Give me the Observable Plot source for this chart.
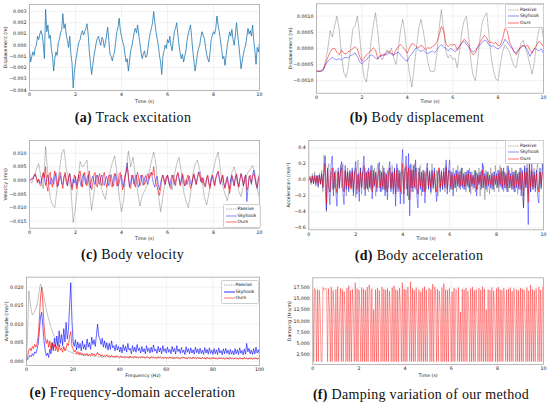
<!DOCTYPE html>
<html><head><meta charset="utf-8">
<script src="https://cdn.jsdelivr.net/npm/d3@7"></script>
<script src="https://cdn.jsdelivr.net/npm/@observablehq/plot@0.6"></script>
<style>
body{margin:0;background:#fff;}
#fig{position:relative;width:550px;height:405px;overflow:hidden;background:#fff;}
.cell{position:absolute;width:275px;height:135px;}
.cell svg{position:absolute;left:0;top:0;overflow:visible;}
.cap{position:absolute;width:300px;text-align:center;font-family:"Liberation Serif",serif;font-size:14px;letter-spacing:0.3px;line-height:16px;color:#111;white-space:nowrap;}
.leg{position:absolute;background:rgba(255,255,255,0.85);border:0.5px solid #cfcfcf;border-radius:1.5px;font-family:"DejaVu Sans";font-size:4.5px;color:#111;}
.leg .row{position:absolute;left:0;height:6px;width:100%;}
.leg svg{position:absolute;left:2px;top:0;}
.leg span{position:absolute;left:14px;top:0;line-height:6px;white-space:nowrap;}
</style></head>
<body><div id="fig"></div>
<script>
// ---------- DATA ----------
const timeTicks = [0, 2, 4, 6, 8, 10];
const freqTicks = [0, 20, 40, 60, 80, 100];
const seriesNames = ["Passive", "Skyhook", "Ours"];

// (a) track excitation, sampled every 0.05 s
const trackStep = 0.05;
const trackTicks = [-0.004, -0.003, -0.002, -0.001, 0, 0.001, 0.002, 0.003];
const trackExcitation = [-0.0005,-0.0015,-0.0010,-0.0006,-0.0009,-0.0002,0.0000,0.0008,0.0005,0.0010,
 0.0013,0.0009,0.0001,-0.0012,0.0032,0.0012,0.0018,0.0006,0.0009,-0.0003,
 -0.0010,-0.0023,-0.0012,-0.0006,-0.0009,0.0002,0.0005,0.0011,0.0014,0.0028,
 0.0015,0.0019,0.0009,0.0004,-0.0002,0.0008,-0.0008,-0.0016,-0.0038,-0.0024,
 -0.0015,-0.0009,-0.0002,0.0003,0.0005,0.0010,0.0013,0.0009,0.0012,0.0015,
 0.0019,0.0010,-0.0005,-0.0016,-0.0026,-0.0018,-0.0010,-0.0004,0.0002,0.0006,
 0.0008,0.0003,0.0000,0.0007,0.0005,-0.0002,0.0002,0.0009,0.0016,0.0004,
 -0.0008,-0.0010,-0.0014,-0.0009,-0.0006,0.0004,0.0012,0.0016,0.0024,0.0013,
 0.0008,0.0003,0.0000,-0.0008,-0.0015,-0.0012,-0.0023,-0.0014,-0.0005,-0.0001,
 0.0005,0.0011,0.0015,0.0011,0.0018,0.0009,0.0002,-0.0006,-0.0012,-0.0008,
 -0.0005,-0.0011,-0.0010,-0.0003,0.0005,0.0011,0.0015,0.0020,0.0030,0.0020,
 0.0012,0.0006,0.0000,-0.0009,-0.0015,-0.0026,-0.0010,-0.0005,0.0000,-0.0003,
 0.0005,0.0002,0.0008,0.0000,-0.0005,0.0004,0.0012,0.0015,0.0020,0.0010,
 0.0000,-0.0007,-0.0012,-0.0008,-0.0015,-0.0010,-0.0005,0.0004,0.0010,0.0014,
 0.0018,0.0007,-0.0005,-0.0014,-0.0023,-0.0016,-0.0008,-0.0003,0.0000,0.0007,
 0.0012,0.0009,0.0006,-0.0001,-0.0008,-0.0012,-0.0015,-0.0006,0.0005,0.0009,
 0.0012,0.0010,0.0015,0.0026,0.0018,0.0012,0.0005,-0.0003,-0.0012,-0.0010,
 -0.0018,-0.0009,0.0000,0.0006,0.0012,0.0008,0.0014,0.0005,0.0000,0.0009,
 0.0020,0.0010,0.0000,-0.0010,-0.0021,-0.0014,-0.0008,-0.0003,0.0000,0.0008,
 0.0015,0.0010,0.0013,0.0008,0.0018,0.0004,-0.0005,-0.0017,-0.0002,-0.0006,
 0.0002];

// (b) body displacement, every 0.1 s
const dispStep = 0.1;
const dispTicks = [-0.001, -0.0005, 0, 0.0005, 0.001];
const dispPassive = [-0.00070,-0.00072,-0.00073,-0.00068,-0.00040,0.00000,0.00055,0.00035,0.00070,0.00100,
 0.00060,-0.00020,-0.00075,-0.00090,-0.00060,0.00000,0.00060,0.00070,0.00100,0.00040,
 -0.00040,-0.00090,-0.00105,-0.00050,0.00020,0.00070,0.00110,0.00050,-0.00020,-0.00035,
 -0.00020,-0.00005,-0.00015,0.00000,-0.00030,-0.00050,-0.00005,0.00055,0.00090,0.00045,
 -0.00030,-0.00080,-0.00120,-0.00060,0.00000,0.00060,0.00090,0.00055,0.00010,-0.00040,
 -0.00070,-0.00072,-0.00070,-0.00020,0.00060,0.00120,0.00060,-0.00010,-0.00030,-0.00020,
 -0.00035,-0.00030,-0.00060,-0.00010,0.00050,0.00085,0.00100,0.00040,-0.00040,-0.00085,
 -0.00100,-0.00040,0.00030,0.00080,0.00100,0.00110,0.00040,-0.00030,-0.00070,-0.00095,
 -0.00100,-0.00050,-0.00010,0.00010,0.00000,-0.00010,-0.00035,-0.00055,-0.00060,-0.00020,
 0.00015,0.00025,0.00005,-0.00020,-0.00050,-0.00080,-0.00040,0.00020,0.00060,0.00070,
 0.00030];
const dispSkyhook = [-0.00070,-0.00071,-0.00070,-0.00066,-0.00052,-0.00040,-0.00033,-0.00028,-0.00033,-0.00036,
 -0.00032,-0.00036,-0.00030,-0.00028,-0.00030,-0.00022,-0.00020,-0.00014,-0.00025,-0.00042,
 -0.00048,-0.00040,-0.00036,-0.00026,-0.00020,-0.00024,-0.00030,-0.00034,-0.00025,-0.00022,
 -0.00018,-0.00020,-0.00014,-0.00018,-0.00022,-0.00015,-0.00012,-0.00020,-0.00028,-0.00036,
 -0.00040,-0.00025,-0.00018,-0.00006,0.00002,-0.00005,-0.00010,-0.00005,-0.00012,-0.00016,
 -0.00012,-0.00008,-0.00014,-0.00005,0.00005,0.00012,0.00004,0.00000,-0.00008,0.00000,
 -0.00004,-0.00010,-0.00006,0.00008,0.00015,0.00022,0.00012,0.00005,-0.00005,-0.00012,
 -0.00006,0.00002,0.00010,0.00018,0.00026,0.00022,0.00010,0.00006,0.00008,0.00002,
 -0.00002,0.00004,0.00012,0.00028,0.00020,0.00008,0.00002,-0.00010,-0.00014,-0.00004,
 0.00002,0.00008,0.00004,-0.00006,-0.00025,-0.00012,0.00000,-0.00004,-0.00008,-0.00002,
 -0.00015];
const dispOurs = [-0.00070,-0.00071,-0.00070,-0.00064,-0.00045,-0.00028,-0.00012,-0.00002,0.00000,-0.00012,
 -0.00020,-0.00005,-0.00015,-0.00018,-0.00010,-0.00008,0.00000,0.00005,-0.00002,-0.00025,
 -0.00040,-0.00030,-0.00020,-0.00014,-0.00008,0.00002,-0.00005,-0.00032,-0.00022,-0.00020,
 -0.00022,-0.00012,-0.00008,-0.00015,-0.00020,-0.00005,0.00005,0.00012,0.00005,-0.00005,
 -0.00015,0.00002,0.00015,0.00012,0.00005,0.00002,0.00010,0.00005,-0.00005,0.00002,
 0.00000,0.00005,0.00010,0.00020,0.00040,0.00068,0.00055,0.00015,0.00005,0.00012,
 0.00010,0.00012,-0.00005,0.00005,0.00018,0.00028,0.00022,0.00010,-0.00010,-0.00020,
 -0.00015,0.00005,0.00018,0.00030,0.00040,0.00032,0.00018,0.00020,0.00015,0.00018,
 0.00008,0.00010,0.00030,0.00062,0.00055,0.00020,0.00005,-0.00010,-0.00020,-0.00005,
 0.00005,0.00010,0.00005,0.00010,-0.00005,-0.00015,0.00000,0.00010,0.00022,0.00015,
 0.00005];

// (c) body velocity: passive every 0.1 s, skyhook / ours every 0.05 s
const velPassiveStep = 0.1, velStep = 0.05;
const velTicks = [-0.015, -0.01, -0.005, 0, 0.005, 0.01];
const velPassive = [0.0000,-0.0010,0.0015,0.0040,0.0062,0.0010,-0.0030,0.0125,0.0020,-0.0065,
 -0.0090,-0.0100,-0.0030,0.0035,0.0100,0.0115,0.0040,0.0010,-0.0030,-0.0155,
 -0.0100,-0.0010,0.0070,0.0050,0.0060,0.0075,-0.0030,-0.0110,-0.0050,0.0020,
 0.0010,-0.0020,-0.0050,-0.0070,-0.0010,0.0030,0.0065,0.0090,0.0030,-0.0060,
 -0.0115,-0.0070,0.0040,0.0108,0.0050,0.0085,0.0020,-0.0040,-0.0095,-0.0055,
 -0.0040,-0.0020,0.0030,0.0070,0.0105,0.0060,-0.0050,-0.0115,-0.0060,0.0000,
 0.0020,-0.0015,-0.0035,0.0020,0.0060,0.0085,0.0030,-0.0040,-0.0075,-0.0100,
 -0.0050,0.0020,0.0060,0.0075,0.0040,0.0000,-0.0060,-0.0090,-0.0050,0.0010,
 0.0040,0.0080,0.0105,0.0040,-0.0020,-0.0050,-0.0075,-0.0030,0.0030,0.0050,
 0.0010,-0.0040,-0.0060,-0.0020,0.0010,0.0030,0.0040,0.0055,0.0030,-0.0030,
 -0.0065];
const velSkyhook = [0.0000,0.0003,0.0008,0.0005,0.0015,0.0022,0.0010,-0.0005,0.0002,-0.0010,-0.0008,
 0.0015,0.0025,0.0005,-0.0018,0.0008,0.0020,-0.0005,-0.0015,0.0010,0.0000,
 -0.0015,0.0015,0.0028,-0.0005,-0.0020,0.0005,0.0018,-0.0012,-0.0015,0.0015,
 0.0022,-0.0008,-0.0020,0.0010,0.0025,-0.0005,-0.0025,0.0005,-0.0010,0.0015,
 -0.0018,0.0005,0.0020,-0.0005,-0.0022,0.0010,0.0025,0.0005,-0.0015,0.0008,
 0.0020,-0.0010,-0.0028,0.0005,0.0015,-0.0005,-0.0015,0.0010,0.0020,-0.0008,
 -0.0015,0.0012,0.0020,-0.0010,-0.0018,0.0005,0.0015,-0.0005,-0.0020,0.0008,
 0.0022,-0.0005,-0.0020,0.0010,0.0025,0.0000,-0.0022,-0.0010,0.0015,0.0020,
 -0.0015,-0.0025,0.0010,0.0030,0.0065,0.0010,-0.0025,-0.0010,0.0020,0.0005,
 -0.0015,0.0015,0.0020,-0.0015,-0.0025,0.0005,0.0020,-0.0005,-0.0018,0.0008,
 0.0018,-0.0005,-0.0015,0.0010,0.0025,0.0030,0.0005,-0.0015,-0.0025,0.0005,
 0.0015,-0.0015,-0.0035,-0.0010,0.0010,0.0020,-0.0005,-0.0015,0.0010,0.0018,
 -0.0005,-0.0020,0.0005,0.0020,0.0005,-0.0015,-0.0005,0.0015,0.0025,0.0005,
 -0.0015,0.0005,0.0018,-0.0010,-0.0020,0.0000,-0.0015,0.0005,0.0015,-0.0010,
 -0.0018,0.0005,0.0020,0.0000,-0.0015,0.0010,0.0032,0.0015,-0.0005,0.0010,
 0.0000,-0.0015,-0.0020,0.0005,0.0015,-0.0010,-0.0020,0.0005,0.0015,-0.0005,
 -0.0018,0.0010,0.0025,0.0030,0.0005,-0.0015,0.0005,0.0018,-0.0010,-0.0025,
 0.0000,0.0015,-0.0015,-0.0030,0.0005,0.0020,-0.0005,-0.0020,0.0010,0.0020,
 -0.0005,-0.0022,0.0005,0.0025,0.0005,-0.0020,0.0010,0.0020,-0.0078,-0.0030,
 0.0015,0.0005,-0.0015,0.0020,0.0038,0.0010,-0.0015,-0.0030,0.0005,0.0025];
const velOurs = [0.0000,0.0002,0.0005,0.0010,0.0020,0.0025,0.0010,-0.0010,0.0005,-0.0015,-0.0020,
 0.0010,0.0030,0.0010,0.0050,-0.0020,-0.0040,0.0020,0.0030,-0.0010,-0.0025,
 0.0010,0.0035,0.0005,-0.0025,-0.0010,0.0025,0.0030,-0.0010,-0.0030,0.0010,
 0.0030,0.0005,-0.0020,0.0015,0.0025,-0.0010,-0.0035,-0.0010,0.0020,0.0005,
 -0.0030,-0.0010,0.0025,0.0035,0.0000,-0.0025,0.0015,0.0030,-0.0005,-0.0020,
 0.0010,0.0035,-0.0010,-0.0035,-0.0015,0.0020,0.0030,-0.0010,-0.0025,0.0010,
 0.0025,-0.0005,-0.0020,0.0015,0.0030,0.0000,-0.0025,-0.0005,0.0020,0.0015,
 -0.0015,-0.0025,0.0010,0.0025,0.0005,-0.0020,-0.0015,0.0025,0.0030,-0.0005,
 -0.0035,-0.0010,0.0020,0.0030,0.0050,0.0020,-0.0025,-0.0030,0.0010,0.0020,
 -0.0010,-0.0025,0.0010,0.0030,0.0005,-0.0020,-0.0005,0.0020,0.0010,-0.0015,
 -0.0005,0.0015,0.0025,0.0005,0.0015,0.0030,0.0020,0.0050,0.0010,-0.0010,
 -0.0025,-0.0040,-0.0055,-0.0030,0.0005,0.0020,0.0005,-0.0015,0.0010,0.0020,
 0.0000,-0.0025,-0.0030,0.0010,0.0020,0.0000,-0.0020,0.0015,0.0030,0.0010,
 -0.0020,-0.0005,0.0025,0.0010,-0.0020,-0.0015,0.0010,0.0020,-0.0010,-0.0030,
 -0.0015,0.0010,0.0025,0.0005,-0.0015,0.0010,0.0025,0.0030,0.0000,-0.0010,
 0.0010,-0.0020,-0.0025,0.0010,0.0020,-0.0015,-0.0030,0.0000,0.0020,0.0010,
 -0.0020,0.0005,0.0020,0.0035,0.0015,-0.0010,0.0000,0.0020,-0.0015,-0.0030,
 -0.0010,0.0010,-0.0020,-0.0048,-0.0020,0.0015,0.0005,-0.0020,0.0010,0.0025,
 -0.0005,-0.0025,0.0005,0.0025,0.0010,-0.0020,0.0005,0.0020,-0.0035,-0.0025,
 0.0010,0.0020,-0.0010,0.0015,0.0025,0.0010,-0.0015,-0.0025,0.0005,0.0020];

// (d) body acceleration, every 0.05 s
const accStep = 0.05;
const accTicks = [-0.6, -0.4, -0.2, 0, 0.2, 0.4];
const accPassive = [0.00,0.05,-0.06,0.08,-0.05,0.10,-0.08,0.06,-0.10,0.08,-0.06,
 0.12,-0.15,0.31,-0.10,-0.40,0.12,0.20,-0.15,0.10,-0.12,
 0.15,-0.10,0.12,-0.18,0.10,-0.12,0.18,-0.10,0.20,-0.15,
 0.10,-0.20,0.15,-0.12,0.10,-0.08,0.12,-0.15,0.10,-0.22,
 0.12,0.25,-0.10,0.15,-0.18,0.10,-0.12,0.15,-0.10,0.12,
 -0.15,0.10,-0.12,0.18,-0.10,0.15,-0.20,0.12,0.20,-0.10,
 0.12,-0.15,0.18,-0.12,0.10,-0.15,0.12,-0.10,0.15,-0.12,
 0.18,-0.10,0.12,-0.15,0.10,0.15,-0.12,0.10,-0.18,0.12,
 -0.10,0.15,-0.12,0.10,-0.25,0.18,-0.10,0.12,-0.15,0.20,
 -0.12,0.15,-0.18,0.10,0.18,-0.20,0.12,-0.15,0.10,-0.12,
 0.15,-0.10,0.12,-0.18,0.20,-0.12,0.10,-0.15,0.12,-0.20,
 0.15,-0.10,0.12,-0.12,0.10,-0.15,0.18,-0.10,0.12,-0.15,
 0.10,-0.12,0.15,-0.10,0.12,-0.15,0.18,-0.10,0.12,-0.08,
 0.15,-0.12,0.10,-0.15,0.12,-0.10,0.15,-0.18,0.10,-0.12,
 0.12,-0.15,0.10,-0.12,0.15,-0.20,0.12,-0.10,0.18,-0.25,
 0.12,-0.15,0.10,-0.18,0.15,-0.12,0.10,-0.15,0.18,-0.10,
 0.12,-0.15,0.18,-0.10,0.12,-0.15,0.10,-0.12,0.18,-0.15,
 0.12,-0.10,0.15,-0.12,0.10,-0.15,0.12,-0.18,0.10,-0.12,
 0.15,-0.20,-0.35,0.15,-0.10,0.20,-0.18,0.12,-0.15,0.10,
 -0.12,0.15,-0.10,0.12,0.20,-0.15,0.10,-0.12,0.20,0.05];
const accSkyhook = [0.00,0.02,-0.03,0.04,-0.05,0.06,-0.04,0.05,-0.08,0.06,-0.05,
 0.08,-0.10,0.12,0.30,-0.38,0.15,-0.12,-0.31,0.20,0.30,
 -0.20,0.10,-0.15,-0.33,0.15,-0.10,0.12,0.23,-0.15,-0.31,
 0.18,-0.12,0.10,-0.15,0.12,-0.10,0.15,-0.20,0.10,0.23,
 -0.18,0.08,-0.27,0.15,-0.10,0.12,0.30,-0.20,0.10,-0.12,
 0.15,-0.10,0.18,-0.24,0.12,-0.08,0.10,-0.15,0.08,0.22,
 -0.15,0.10,-0.12,0.15,-0.20,0.08,-0.25,0.12,0.23,-0.15,
 0.10,-0.18,0.15,-0.33,0.20,-0.15,0.12,-0.30,0.18,0.38,
 -0.30,0.15,0.30,-0.20,0.33,-0.45,0.20,-0.15,0.18,-0.10,
 0.25,-0.18,-0.35,0.15,-0.12,0.10,-0.15,0.12,-0.29,0.10,
 0.21,-0.12,0.10,-0.15,0.12,-0.10,0.15,-0.12,-0.27,0.10,
 0.12,-0.15,0.10,-0.12,0.15,-0.10,0.25,-0.18,0.10,0.25,
 -0.12,0.10,-0.20,0.08,-0.10,0.12,-0.08,0.10,-0.12,0.15,
 -0.10,0.08,-0.12,0.10,-0.08,0.12,-0.15,0.10,-0.08,0.06,
 -0.10,0.12,-0.20,0.08,-0.06,0.10,-0.12,0.21,-0.10,0.08,
 -0.12,0.10,-0.08,0.06,-0.10,0.08,-0.12,0.10,-0.06,0.08,
 -0.10,0.12,-0.08,0.10,-0.12,0.15,-0.10,0.08,-0.15,0.17,
 -0.10,0.08,-0.12,0.10,-0.15,0.12,-0.10,0.08,-0.12,0.15,
 -0.20,0.12,-0.35,0.18,-0.10,0.15,-0.56,0.20,-0.15,0.21,
 -0.12,0.10,-0.15,0.12,-0.20,-0.29,0.15,-0.10,0.12,0.25];
const accOurs = [0.00,0.03,-0.04,0.05,-0.03,0.04,-0.06,0.05,-0.04,0.06,-0.05,
 0.06,-0.08,0.10,0.20,-0.30,0.12,-0.10,-0.15,0.12,0.15,
 -0.12,0.08,-0.10,-0.15,0.10,-0.08,0.10,0.15,-0.10,-0.15,
 0.12,-0.08,0.10,-0.10,0.08,-0.12,0.10,-0.12,0.08,0.15,
 -0.12,0.06,-0.15,0.10,-0.08,0.08,0.18,-0.12,0.08,-0.10,
 0.10,-0.08,0.12,-0.15,0.08,-0.06,0.08,-0.10,0.06,0.12,
 -0.10,0.08,-0.08,0.10,-0.12,0.06,-0.15,0.08,0.15,-0.10,
 0.08,-0.12,0.10,-0.18,0.12,-0.10,0.08,-0.15,0.10,0.20,
 -0.18,0.10,0.18,-0.12,0.15,-0.25,0.12,-0.10,0.12,-0.08,
 0.15,-0.10,-0.18,0.10,-0.08,0.08,-0.10,0.08,-0.15,0.06,
 0.12,-0.08,0.06,-0.10,0.08,-0.06,0.10,-0.08,-0.15,0.08,
 0.15,-0.10,0.08,-0.08,0.10,-0.06,0.15,-0.12,0.06,0.12,
 -0.08,0.06,-0.12,0.05,-0.06,0.08,-0.05,0.06,-0.08,0.10,
 -0.06,0.05,-0.08,0.06,-0.05,0.08,-0.10,0.06,-0.05,0.04,
 -0.06,0.08,-0.12,0.05,-0.04,0.06,-0.08,0.12,-0.06,0.05,
 -0.08,0.06,-0.05,0.04,-0.06,0.05,-0.08,0.06,-0.04,0.05,
 -0.06,0.08,-0.05,0.15,-0.08,0.10,-0.06,0.05,-0.10,0.10,
 -0.06,0.05,-0.08,0.06,-0.10,0.08,-0.06,0.05,-0.08,0.10,
 -0.12,0.08,-0.20,0.10,-0.06,0.10,-0.28,0.20,-0.10,0.12,
 -0.08,0.06,-0.10,0.08,-0.12,-0.15,0.10,-0.06,0.08,0.10];

// (e) frequency-domain acceleration, every 0.5 Hz
const freqStep = 0.5;
const ampTicks = [0, 0.005, 0.01, 0.015, 0.02];
const ampPassive = [0.0005,0.0080,0.0190,0.0165,0.0138,0.0125,0.0128,0.0134,0.0142,0.0152,
 0.0168,0.0192,0.0208,0.0202,0.0188,0.0172,0.0156,0.0140,0.0126,0.0114,
 0.0102,0.0092,0.0082,0.0074,0.0067,0.0060,0.0055,0.0050,0.0046,0.0043,
 0.0040,0.0037,0.0035,0.0033,0.0031,0.0029,0.0028,0.0026,0.0025,0.0023,0.0022,
 0.0021,0.0020,0.0019,0.0020,0.0018,0.0017,0.0018,0.0016,0.0017,0.0015,
 0.0016,0.0014,0.0015,0.0016,0.0013,0.0014,0.0015,0.0013,0.0012,0.0014,
 0.0013,0.0011,0.0012,0.0014,0.0010,0.0012,0.0011,0.0013,0.0010,0.0012,
 0.0011,0.0009,0.0013,0.0011,0.0010,0.0012,0.0014,0.0010,0.0011,0.0009,
 0.0012,0.0010,0.0011,0.0013,0.0009,0.0011,0.0010,0.0012,0.0011,0.0009,
 0.0010,0.0012,0.0011,0.0013,0.0010,0.0009,0.0011,0.0012,0.0010,0.0011,
 0.0010,0.0009,0.0011,0.0012,0.0010,0.0008,0.0011,0.0010,0.0012,0.0009,
 0.0010,0.0011,0.0009,0.0010,0.0012,0.0008,0.0010,0.0011,0.0009,0.0010,
 0.0008,0.0011,0.0010,0.0009,0.0012,0.0010,0.0008,0.0009,0.0011,0.0010,
 0.0009,0.0008,0.0010,0.0011,0.0009,0.0010,0.0008,0.0009,0.0011,0.0010,
 0.0009,0.0008,0.0010,0.0009,0.0011,0.0008,0.0009,0.0010,0.0008,0.0009,
 0.0010,0.0008,0.0007,0.0009,0.0010,0.0008,0.0009,0.0007,0.0008,0.0010,
 0.0009,0.0008,0.0007,0.0009,0.0008,0.0010,0.0008,0.0007,0.0009,0.0008,
 0.0007,0.0009,0.0008,0.0010,0.0007,0.0008,0.0009,0.0007,0.0008,0.0009,
 0.0008,0.0007,0.0009,0.0008,0.0007,0.0008,0.0009,0.0007,0.0008,0.0006,
 0.0008,0.0009,0.0007,0.0008,0.0007,0.0009,0.0008,0.0007,0.0008,0.0007];
const ampSkyhook = [0.0002,0.0006,0.0010,0.0016,0.0012,0.0020,0.0015,0.0025,0.0021,0.0032,
 0.0045,0.0080,0.0118,0.0132,0.0095,0.0055,0.0030,0.0015,0.0022,0.0010,
 0.0032,0.0020,0.0050,0.0028,0.0062,0.0038,0.0068,0.0040,0.0082,0.0048,
 0.0072,0.0042,0.0088,0.0052,0.0105,0.0060,0.0085,0.0150,0.0212,0.0110,0.0052,
 0.0040,0.0058,0.0030,0.0052,0.0035,0.0048,0.0028,0.0055,0.0033,0.0045,
 0.0030,0.0060,0.0038,0.0050,0.0032,0.0065,0.0045,0.0058,0.0040,0.0070,
 0.0100,0.0068,0.0060,0.0045,0.0062,0.0038,0.0055,0.0035,0.0050,0.0030,
 0.0048,0.0032,0.0055,0.0036,0.0042,0.0028,0.0045,0.0030,0.0040,0.0025,
 0.0038,0.0022,0.0045,0.0028,0.0040,0.0025,0.0048,0.0030,0.0035,0.0020,
 0.0042,0.0026,0.0038,0.0024,0.0045,0.0028,0.0036,0.0022,0.0040,0.0025,
 0.0034,0.0020,0.0042,0.0026,0.0035,0.0022,0.0038,0.0024,0.0044,0.0027,
 0.0033,0.0021,0.0040,0.0025,0.0036,0.0020,0.0042,0.0026,0.0034,0.0022,
 0.0038,0.0024,0.0032,0.0020,0.0040,0.0025,0.0035,0.0019,0.0042,0.0026,
 0.0033,0.0021,0.0037,0.0023,0.0030,0.0018,0.0039,0.0024,0.0034,0.0020,
 0.0036,0.0022,0.0031,0.0019,0.0038,0.0023,0.0033,0.0020,0.0035,0.0021,
 0.0030,0.0018,0.0037,0.0022,0.0032,0.0019,0.0036,0.0021,0.0030,0.0018,
 0.0034,0.0020,0.0031,0.0018,0.0036,0.0022,0.0029,0.0017,0.0033,0.0020,
 0.0035,0.0021,0.0030,0.0018,0.0032,0.0019,0.0028,0.0017,0.0034,0.0020,
 0.0031,0.0018,0.0036,0.0021,0.0029,0.0017,0.0033,0.0019,0.0048,0.0025,
 0.0035,0.0020,0.0030,0.0018,0.0034,0.0020,0.0038,0.0022,0.0031,0.0019];
const ampOurs = [0.0002,0.0012,0.0030,0.0035,0.0028,0.0040,0.0034,0.0045,0.0038,0.0048,
 0.0065,0.0110,0.0170,0.0200,0.0160,0.0100,0.0065,0.0048,0.0058,0.0038,
 0.0055,0.0030,0.0050,0.0034,0.0045,0.0028,0.0040,0.0025,0.0045,0.0030,
 0.0035,0.0024,0.0040,0.0028,0.0035,0.0048,0.0042,0.0068,0.0080,0.0040,0.0034,
 0.0025,0.0030,0.0020,0.0026,0.0018,0.0024,0.0017,0.0022,0.0015,0.0020,
 0.0016,0.0021,0.0014,0.0019,0.0015,0.0022,0.0016,0.0020,0.0014,0.0018,
 0.0024,0.0016,0.0019,0.0013,0.0017,0.0012,0.0016,0.0013,0.0018,0.0012,
 0.0015,0.0011,0.0016,0.0012,0.0014,0.0010,0.0015,0.0011,0.0013,0.0010,
 0.0014,0.0010,0.0012,0.0009,0.0013,0.0010,0.0012,0.0008,0.0014,0.0010,
 0.0011,0.0008,0.0013,0.0009,0.0012,0.0008,0.0011,0.0009,0.0013,0.0010,
 0.0011,0.0008,0.0012,0.0009,0.0010,0.0007,0.0012,0.0009,0.0011,0.0008,
 0.0010,0.0007,0.0012,0.0009,0.0011,0.0008,0.0010,0.0007,0.0011,0.0008,
 0.0010,0.0007,0.0011,0.0008,0.0009,0.0006,0.0011,0.0008,0.0010,0.0007,
 0.0009,0.0006,0.0010,0.0008,0.0011,0.0007,0.0009,0.0006,0.0010,0.0007,
 0.0009,0.0006,0.0011,0.0007,0.0009,0.0006,0.0010,0.0007,0.0008,0.0006,
 0.0010,0.0007,0.0009,0.0005,0.0010,0.0007,0.0008,0.0006,0.0009,0.0006,
 0.0010,0.0006,0.0008,0.0005,0.0009,0.0006,0.0010,0.0007,0.0008,0.0005,
 0.0009,0.0006,0.0008,0.0005,0.0010,0.0006,0.0008,0.0005,0.0009,0.0006,
 0.0008,0.0005,0.0009,0.0006,0.0008,0.0005,0.0010,0.0006,0.0009,0.0005,
 0.0008,0.0006,0.0009,0.0005,0.0008,0.0006,0.0009,0.0005,0.0008,0.0006];

// (f) damping of our method, every 0.04 s
const dampStep = 0.04;
const dampTicks = [2500, 5000, 7500, 10000, 12500, 15000, 17500];
const dampOurs = [16800,1000,17200,16500,1000,17000,1000,16800,12500,1000,
 1000,17400,16800,17000,17300,16900,1000,17200,13000,1000,
 17500,1000,16800,12000,1000,17000,1000,17600,1000,12500,
 17200,1000,17000,1000,16500,11500,1000,17300,1000,17800,
 1000,16800,1000,17000,12000,1000,18500,1000,17200,1000,
 16900,13000,1000,17400,1000,17100,1000,16800,1000,17500,
 1000,18000,16500,1000,17200,1000,12500,1000,17000,1000,
 17300,1000,16800,11000,1000,17500,1000,17100,1000,16900,
 1000,17200,1000,16600,12000,1000,17400,1000,17800,1000,
 17000,1000,16800,1000,17300,13000,1000,18500,1000,17100,
 1000,16900,1000,17500,12500,1000,18700,1000,17200,1000,
 16800,1000,17400,11500,1000,17000,1000,16500,1000,17200,
 1000,17600,1000,16900,1000,12000,17300,1000,17000,1000,
 18200,1000,17500,16800,1000,17100,1000,16700,12500,1000,
 17400,1000,18300,1000,17000,1000,16800,1000,17200,13000,
 1000,16500,1000,17300,1000,17000,16800,1000,17400,1000,
 12000,1000,17100,1000,16900,1000,17300,1000,16600,12500,
 1000,17200,1000,17500,1000,16800,1000,17000,11000,1000,
 17300,1000,16900,1000,17600,1000,17100,1000,12500,1000,
 17000,1000,16800,1000,17400,1000,16700,12000,1000,17200,
 1000,17500,1000,17000,1000,16800,1000,17300,13000,1000,
 16900,1000,17100,1000,17400,1000,16600,1000,17200,12000,
 1000,17000,1000,16800,1000,17300,1000,17100,1000,16900,
 12500,1000,17400,1000,16700,1000,18000,1000,17000,1000,
 16800,1000,17200,11500,1000,17500,1000,16900,1000,17300,
 18000];

// ---------- STYLES ----------
const sty = {
  Passive: {color: "#444", width: 0.6, opacity: 0.6, dash: "1.3,1"},
  Skyhook: {color: "#0000ff", width: 0.7, opacity: 0.6},
  Ours:    {color: "#ff0000", width: 0.75, opacity: 0.7}
};

const W = 275, H = 112;
const toRows = (values, step) => values.map((v, i) => ({x: i * step, y: v}));

function makePanel(p) {
  const marks = [
    Plot.gridX(p.xTicks, {stroke: "#e4e4e4", strokeOpacity: 1, strokeWidth: 0.5}),
    Plot.gridY(p.yTicks, {stroke: "#e4e4e4", strokeOpacity: 1, strokeWidth: 0.5}),
    ...p.lines.map(l => Plot.line(toRows(l.values, l.step), {
      x: "x", y: "y", stroke: l.color, strokeWidth: l.width, strokeOpacity: l.opacity,
      strokeDasharray: l.dash, clip: true
    })),
    Plot.frame({stroke: "#a8a8a8", strokeWidth: 0.8}),
    Plot.axisX(p.xTicks, {tickSize: 0, tickPadding: 2.5, tickFormat: d3.format("d"), label: p.xLabel,
      labelAnchor: "center", labelOffset: p.xlo, labelArrow: "none"}),
    Plot.axisY(p.yTicks, {tickSize: 0, tickPadding: 3, tickFormat: p.yFormat, label: p.yLabel,
      labelAnchor: "center", labelOffset: p.ylo, labelArrow: "none"})
  ];
  return Plot.plot({
    width: W, height: H,
    marginLeft: p.ml, marginRight: p.mr, marginTop: p.mt, marginBottom: H - p.pb,
    x: {domain: p.xDomain}, y: {domain: p.yDomain},
    style: {fontFamily: "DejaVu Sans", fontSize: "4.7px", color: "#222", background: "transparent", overflow: "visible"},
    marks
  });
}

const fig = document.getElementById("fig");
function addCell(left, top, panel, caption, legend) {
  const cell = document.createElement("div");
  cell.className = "cell";
  cell.style.left = left + "px"; cell.style.top = top + "px";
  cell.appendChild(makePanel(panel));
  if (legend) {
    const lg = document.createElement("div");
    lg.className = "leg";
    Object.assign(lg.style, {left: legend.x + "px", top: legend.y + "px", width: legend.w + "px", height: legend.h + "px"});
    seriesNames.forEach((name, k) => {
      const s = sty[name];
      const row = document.createElement("div");
      row.className = "row";
      row.style.top = (1.6 + k * 6.6) + "px";
      row.innerHTML = `<svg width="11" height="6"><line x1="0" y1="3" x2="11" y2="3" stroke="${s.color}" stroke-width="${name === "Skyhook" && legend.thick ? 1.4 : 0.8}" stroke-opacity="${s.opacity}" ${s.dash ? `stroke-dasharray="${s.dash}"` : ""}/></svg><span>${name}</span>`;
      lg.appendChild(row);
    });
    cell.appendChild(lg);
  }
  const cap = document.createElement("div");
  cap.className = "cap";
  cap.style.left = (caption.cx - 150) + "px";
  cap.style.top = (caption.cy - 8) + "px";
  cap.innerHTML = `<b>${caption.tag}</b> ${caption.text}`;
  cell.appendChild(cap);
  fig.appendChild(cell);
}

const three = (p, s, o, stepP, stepSO, wS, wO) => [
  {values: p, step: stepP, ...sty.Passive},
  {values: s, step: stepSO, ...sty.Skyhook, width: wS || sty.Skyhook.width},
  {values: o, step: stepSO, ...sty.Ours, width: wO || sty.Ours.width}
];

addCell(0, 0, {
  ml: 29, mr: 16, mt: 4, pb: 90, xlo: 12.4, ylo: 25.4,
  xDomain: [0, 10], xTicks: timeTicks, yDomain: [-0.00403, 0.00362], yTicks: trackTicks,
  yFormat: d3.format(".3f"), xLabel: "Time (s)", yLabel: "Displacement (m)",
  lines: [{values: trackExcitation, step: trackStep, color: "#1f77b4", width: 0.8, opacity: 1}]
}, {tag: "(a)", text: "Track excitation", cx: 133, cy: 118.3});

addCell(275, 0, {
  ml: 41, mr: 7, mt: 3.3, pb: 92.7, xlo: 9.7, ylo: 27.7,
  xDomain: [0, 10], xTicks: timeTicks, yDomain: [-0.00139, 0.00138], yTicks: dispTicks,
  yFormat: d3.format(".4f"), xLabel: "Time (s)", yLabel: "Displacement (m)",
  lines: three(dispPassive, dispSkyhook, dispOurs, dispStep, dispStep)
}, {tag: "(b)", text: "Body displacement", cx: 142, cy: 117.5}, {x: 230, y: 4, w: 37, h: 22});

addCell(0, 135, {
  ml: 29, mr: 16, mt: 5, pb: 92.7, xlo: 11.4, ylo: 25.4,
  xDomain: [0, 10], xTicks: timeTicks, yDomain: [-0.0176, 0.0147], yTicks: velTicks,
  yFormat: d3.format(".3f"), xLabel: "Time (s)", yLabel: "Velocity (m/s)",
  lines: three(velPassive, velSkyhook, velOurs, velPassiveStep, velStep, 0.8, 0.85)
}, {tag: "(c)", text: "Body velocity", cx: 132.5, cy: 119.8}, {x: 222.5, y: 68.5, w: 36, h: 22});

addCell(275, 135, {
  ml: 33.3, mr: 7, mt: 5, pb: 94.3, xlo: 9.8, ylo: 21.7,
  xDomain: [0, 10], xTicks: timeTicks, yDomain: [-0.625, 0.492], yTicks: accTicks,
  yFormat: d3.format(".1f"), xLabel: "Time (s)", yLabel: "Acceleration (m/s²)",
  lines: three(accPassive, accSkyhook, accOurs, accStep, accStep)
}, {tag: "(d)", text: "Body acceleration", cx: 144, cy: 120.5}, {x: 230, y: 5, w: 37, h: 22});

addCell(0, 270, {
  ml: 26, mr: 16, mt: 6.7, pb: 95, xlo: 11.4, ylo: 21.7,
  xDomain: [0, 100], xTicks: freqTicks, yDomain: [-0.00117, 0.0227], yTicks: ampTicks,
  yFormat: d3.format(".3f"), xLabel: "Frequency (Hz)", yLabel: "Amplitude (m/s²)",
  lines: three(ampPassive, ampSkyhook, ampOurs, freqStep, freqStep, 1.0, 0.9)
}, {tag: "(e)", text: "Frequency-domain acceleration", cx: 132.5, cy: 123.3}, {x: 220.5, y: 9.5, w: 36, h: 22, thick: true});

addCell(275, 270, {
  ml: 37.3, mr: 7, mt: 7.3, pb: 94, xlo: 12.4, ylo: 24.7,
  xDomain: [0, 10], xTicks: timeTicks, yDomain: [357, 19570], yTicks: dampTicks,
  yFormat: d3.format(","), xLabel: "Time (s)", yLabel: "Damping (N·s/m)",
  lines: [{values: dampOurs, step: dampStep, color: "#ff0000", width: 0.9, opacity: 0.42}]
}, {tag: "(f)", text: "Damping variation of our method", cx: 146, cy: 124.8});
</script>
</body></html>
